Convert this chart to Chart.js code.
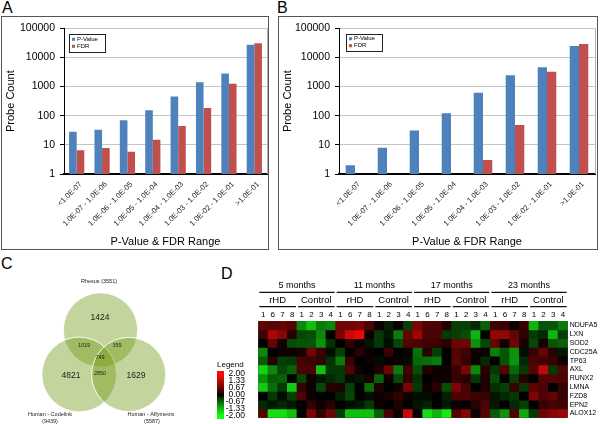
<!DOCTYPE html>
<html><head><meta charset="utf-8">
<script src="https://cdn.jsdelivr.net/npm/chart.js@4.4.1/dist/chart.umd.min.js"></script>
<style>
body{margin:0;width:600px;height:424px;position:relative;background:#fff;font-family:"Liberation Sans",Arial,sans-serif;overflow:hidden}
.frame{position:absolute;border:1px solid #555;box-sizing:border-box}
.lbl{position:absolute;font-size:16px;color:#000;line-height:16px}
canvas{position:absolute}
</style></head><body>
<div class="frame" style="left:1px;top:16px;width:268px;height:234px"></div>
<div class="frame" style="left:278px;top:16px;width:320px;height:234px"></div>
<div class="lbl" style="left:2px;top:0px">A</div>
<div class="lbl" style="left:277px;top:0px">B</div>
<div class="lbl" style="left:1px;top:256px">C</div>
<div class="lbl" style="left:221px;top:266px">D</div>
<canvas id="cA" width="266" height="232" style="left:2px;top:17px"></canvas>
<canvas id="cB" width="318" height="232" style="left:279px;top:17px"></canvas>
<canvas id="cV" width="215" height="169" style="left:0px;top:255px"></canvas>
<canvas id="cL" width="40" height="69" style="left:205px;top:355px"></canvas>
<canvas id="cH" width="350" height="148" style="left:250px;top:276px"></canvas>
<script>
// ---------- DATA ----------
const categories = ['<1.0E-07','1.0E-07 - 1.0E-06','1.0E-06 - 1.0E-05','1.0E-05 - 1.0E-04','1.0E-04 - 1.0E-03','1.0E-03 - 1.0E-02','1.0E-02 - 1.0E-01','>1.0E-01'];
const pValueA = [28, 33, 70, 155, 460, 1400, 2800, 27500];
const fdrA    = [6.5, 7.8, 5.8, 15, 44, 185, 1250, 30500];
const pValueB = [2, 8, 31, 122, 610, 2450, 4600, 24500];
const fdrB    = [null, null, null, null, 3, 48, 3200, 29000];
const yTicks  = [1, 10, 100, 1000, 10000, 100000];

const vennSets = ['Rhesus', 'Human - Codelink', 'Human - Affymetrix'];
const vennRegionKeys   = ['R', 'C', 'A', 'RC', 'RA', 'CA', 'RCA'];
const vennRegionCounts = [1424, 4821, 1629, 1019, 359, 2850, 749];

const genes = ['NDUFA5','LXN','SOD2','CDC25A','TP63','AXL','RUNX2','LMNA','FZD8','EPN2','ALOX12'];
const months = ['5 months','11 months','17 months','23 months'];
const groups = ['rHD','Control'];
const sampleLabels = ['1','6','7','8','1','2','3','4','1','6','7','8','1','2','3','4','1','6','7','8','1','2','3','4','1','6','7','8','1','2','3','4'];
const heatNDUFA5 = [0.6,0.55,0.6,0.5, -0.9,-1.4,-0.8,-0.9, 0.7,0.7,0.8,0.45, 0.05,-0.15,0.05,-0.35, 0.8,0.45,0.45,0.15, -0.35,-0.35,-0.2,-0.6, 0.35,0.3,0.05,0.3, -1.3,-0.5,-0.5,-0.8];
const heatLXN    = [0.35,1.2,0.9,0.2, -0.4,-0.45,-0.9,0.0, 0.8,1.5,1.8,0.05, -0.3,-0.1,-0.8,0.6, 1.1,0.4,0.45,-0.3, -0.35,-0.45,-1.3,0.0, 1.0,1.0,0.6,0.25, -0.3,-0.2,-1.3,-0.35];
const heatSOD2   = [0.0,0.6,0.05,-0.45, -0.5,-0.5,-1.0,-0.25, 0.0,0.25,0.05,-0.1, -0.3,-0.05,-0.4,0.5, 0.45,0.35,0.3,0.2, 0.7,0.7,-1.0,-0.4, 0.6,0.05,0.7,0.1, -0.4,0.1,-0.5,-0.6];
const heatCDC25A = [-0.9,0.0,0.05,0.05, 0.1,0.7,0.3,-0.05, -0.35,0.0,0.2,0.05, 0.0,0.3,0.0,0.05, -0.7,0.2,-0.35,0.0, 0.5,0.35,0.05,0.05, -0.8,-0.5,-1.0,-0.05, 0.3,0.6,0.2,-0.1];
const heatTP63   = [-0.55,0.2,-0.35,-0.3, 0.4,0.35,0.25,-0.25, -0.8,0.3,0.0,0.05, -0.05,0.0,0.05,-0.05, -0.65,-0.7,-0.8,0.0, 0.55,0.3,0.05,-0.2, 0.0,-0.5,-1.0,-0.2, 0.45,0.35,0.3,0.05];
const heatAXL    = [-1.6,-0.9,-0.4,-0.6, 0.45,0.45,-1.4,-0.3, -0.3,0.5,0.05,0.0, 0.15,0.7,-0.8,0.35, -0.45,0.15,0.05,0.05, 0.3,0.8,-0.9,0.2, -0.3,0.5,-0.65,-0.3, 0.5,1.4,-0.3,0.5];
const heatRUNX2  = [-1.0,-0.55,-0.6,0.0, -0.4,0.05,-0.1,-0.2, -0.3,-0.05,-0.1,0.1, -0.6,0.05,-0.4,0.25, -0.25,0.0,0.05,0.05, 0.3,0.2,-0.3,0.15, -0.45,0.0,-0.35,0.2, 0.0,0.5,0.5,0.45];
const heatLMNA   = [-1.5,-0.7,-0.3,-1.5, 0.3,0.05,-0.4,0.2, 0.15,-0.35,0.0,-0.7, 0.15,0.0,0.05,0.8, -0.3,0.05,0.2,-0.45, 0.8,0.4,0.0,0.15, -0.25,-0.35,0.3,-0.3, 0.55,0.45,0.0,0.3];
const heatFZD8   = [0.0,-0.3,-0.05,-0.35, 0.45,0.05,0.0,0.0, -0.15,-0.4,0.0,-0.05, 0.05,0.1,0.25,0.05, -0.05,-0.05,0.0,-0.15, 0.45,0.45,0.35,0.3, -0.1,-0.2,-0.3,0.0, 0.8,0.45,0.6,0.3];
const heatEPN2   = [-0.2,-0.1,-0.2,-0.1, 0.0,0.25,0.05,0.2, 0.0,-0.05,-0.1,-0.3, 0.05,0.0,0.15,0.0, -0.1,-0.15,0.0,-0.1, 0.05,0.0,0.2,0.45, -0.1,0.0,-0.2,-0.35, 0.0,0.3,0.4,0.35];
const heatALOX12 = [0.5,-1.7,-1.7,-1.4, 0.0,0.8,0.25,0.7, -0.35,-1.4,-1.4,-1.4, -0.6,0.4,0.05,1.5, 0.0,-1.7,-1.3,-1.8, 0.5,0.9,0.05,0.5, -0.55,-1.0,0.45,-1.2, -0.3,0.7,0.9,1.1];
const heatRows = [heatNDUFA5,heatLXN,heatSOD2,heatCDC25A,heatTP63,heatAXL,heatRUNX2,heatLMNA,heatFZD8,heatEPN2,heatALOX12];
const legendTicks = [2, 1.33, 0.67, 0, -0.67, -1.33, -2];

// ---------- STYLE ----------
const FONT = '"Liberation Sans", Arial, Helvetica, sans-serif';
Chart.defaults.font.family = FONT;
Chart.defaults.color = '#000';
const BLUE = '#4F81BD', RED = '#C0504D';

function cellColor(v){
  const t = Math.pow(Math.min(Math.abs(v) / 2, 1), 0.8);
  const c = Math.round(255 * t);
  return v >= 0 ? `rgb(${c},${Math.round(c*0.04)},${Math.round(c*0.04)})` : `rgb(${Math.round(c*0.08)},${c},${Math.round(c*0.08)})`;
}

const boxLegend = {
  id: 'boxLegend',
  beforeDatasetsDraw(chart){
    const {ctx, chartArea: a} = chart;
    ctx.save();
    ctx.strokeStyle = '#b0b0b0'; ctx.lineWidth = 1;
    ctx.beginPath(); ctx.moveTo(Math.round(a.right) + 0.5, a.top); ctx.lineTo(Math.round(a.right) + 0.5, a.bottom); ctx.stroke();
    ctx.restore();
  },
  afterDraw(chart, args, o){
    const {ctx, chartArea: a} = chart;
    const x = Math.round(a.left + o.dx), y = Math.round(a.top + o.dy);
    ctx.save();
    ctx.fillStyle = '#fff'; ctx.fillRect(x, y, o.w, o.h);
    ctx.strokeStyle = '#222'; ctx.lineWidth = 1; ctx.strokeRect(x + 0.5, y + 0.5, o.w, o.h);
    ctx.font = '6px ' + FONT; ctx.textBaseline = 'middle'; ctx.textAlign = 'left';
    chart.data.datasets.forEach((ds, i) => {
      const cy = y + o.rows[i];
      ctx.fillStyle = ds.backgroundColor; ctx.fillRect(x + 3, cy - 1.5, 3, 3);
      ctx.fillStyle = '#000'; ctx.fillText(ds.label, x + 8, cy);
    });
    ctx.restore();
  }
};

function barChart(id, pv, fdr, c){
  return new Chart(document.getElementById(id), {
    type: 'bar',
    data: { labels: categories, datasets: [
      { label: 'P-Value', data: pv, backgroundColor: BLUE, borderWidth: 0, barPercentage: 1, categoryPercentage: c.cat },
      { label: 'FDR', data: fdr, backgroundColor: RED, borderWidth: 0, barPercentage: 1, categoryPercentage: c.cat }
    ]},
    options: {
      responsive: false, animation: false, events: [],
      layout: { padding: { left: 0, right: c.padR, top: 9, bottom: 0 } },
      plugins: { legend: { display: false }, tooltip: { enabled: false },
        boxLegend: { dx: c.ldx, dy: 6, w: 36, h: c.lh, rows: c.rows } },
      scales: {
        x: {
          grid: { display: false, drawTicks: false },
          border: { display: true, color: '#000', width: 2 },
          ticks: { color: '#222', font: { size: 7.5 }, minRotation: 45, maxRotation: 45, autoSkip: false, labelOffset: 4, padding: 6 },
          title: { display: true, text: 'P-Value & FDR Range', font: { size: 11 }, color: '#000', padding: 0 },
          afterFit: s => { s.height = 75; }
        },
        y: {
          type: 'logarithmic', min: 1, max: 100000,
          afterBuildTicks: s => { s.ticks = yTicks.map(v => ({ value: v })); },
          ticks: { callback: v => String(v), color: '#000', font: { size: 10.5 }, padding: 5 },
          grid: { color: '#c4c4c4', tickColor: '#000', tickLength: 4, lineWidth: 1 },
          border: { color: '#000', width: 1 },
          title: { display: true, text: 'Probe Count', font: { size: 11 }, color: '#000', padding: { top: 2, bottom: 0 } },
          afterFit: s => { s.width = c.yW; }
        }
      }
    },
    plugins: [boxLegend]
  });
}
barChart('cA', pValueA, fdrA, { cat: 0.6, padR: 1, yW: 62, ldx: 5, lh: 18, rows: [5.3, 12.3] });
barChart('cB', pValueB, fdrB, { cat: 0.58, padR: 2, yW: 60, ldx: 7, lh: 17, rows: [4.7, 11.7] });

// ---------- VENN ----------
const vennLayout = { circles: [ {x:100.5, y:75, r:37.2}, {x:79.2, y:119.5, r:37.4}, {x:128.7, y:119.5, r:37.1} ],
  regionPos: { R:[100,63,8.5], C:[71,121,8.5], A:[136,121,8.5], RC:[84,90,5.5], RA:[117,90,5.5], CA:[100,118,5.5], RCA:[100,102,5.5] },
  setPos: [ [[99,26]], [[50,159],[50,166]], [[151,159],[152,166]] ] };
const setTotals = vennSets.map((s, i) => {
  const key = ['R','C','A'][i];
  return vennRegionKeys.reduce((acc, k, j) => acc + (k.includes(key) ? vennRegionCounts[j] : 0), 0);
});
const vennText = {
  id: 'vennText',
  afterDatasetsDraw(chart){
    const {ctx, scales: {x, y}} = chart;
    ctx.save(); ctx.fillStyle = '#222'; ctx.textAlign = 'center'; ctx.textBaseline = 'middle';
    vennRegionKeys.forEach((k, i) => {
      const p = vennLayout.regionPos[k];
      ctx.font = p[2] + 'px ' + FONT;
      ctx.fillText(String(vennRegionCounts[i]), x.getPixelForValue(p[0]), y.getPixelForValue(p[1]));
    });
    ctx.font = '5.5px ' + FONT;
    vennSets.forEach((s, i) => {
      const pos = vennLayout.setPos[i];
      if (pos.length === 1) {
        ctx.fillText(s + ' (' + setTotals[i] + ')', x.getPixelForValue(pos[0][0]), y.getPixelForValue(pos[0][1]));
      } else {
        ctx.fillText(s, x.getPixelForValue(pos[0][0]), y.getPixelForValue(pos[0][1]));
        ctx.fillText('(' + setTotals[i] + ')', x.getPixelForValue(pos[1][0]), y.getPixelForValue(pos[1][1]));
      }
    });
    ctx.restore();
  }
};
new Chart(document.getElementById('cV'), {
  type: 'bubble',
  data: { datasets: [{ data: vennLayout.circles, backgroundColor: 'rgba(112,155,20,0.42)', borderColor: 'rgba(255,255,255,0.9)', borderWidth: 1, clip: false }] },
  options: {
    responsive: false, animation: false, events: [],
    layout: { padding: 0, autoPadding: false },
    plugins: { legend: { display: false }, tooltip: { enabled: false } },
    scales: { x: { type: 'linear', min: 0, max: 215, display: false }, y: { type: 'linear', min: 0, max: 169, reverse: true, display: false } }
  },
  plugins: [vennText]
});

// ---------- COLOR LEGEND ----------
new Chart(document.getElementById('cL'), {
  type: 'bar',
  data: { labels: ['Legend'], datasets: [{ data: [[-2.3, 2.3]], borderWidth: 0, barPercentage: 1, categoryPercentage: 1,
    backgroundColor: (c) => {
      const ch = c.chart; if (!ch.chartArea) return '#000';
      const ys = ch.scales.y;
      const g = ch.ctx.createLinearGradient(0, ys.getPixelForValue(2), 0, ys.getPixelForValue(-2));
      for (let k = 0; k <= 20; k++) g.addColorStop(k / 20, cellColor(2 - k * 0.2));
      return g;
    } }] },
  options: {
    responsive: false, animation: false, events: [],
    layout: { padding: { left: 12, top: 16, bottom: 4, right: 0 } },
    plugins: { legend: { display: false }, tooltip: { enabled: false } },
    scales: {
      x: { display: false },
      y: { position: 'right', min: -2.3, max: 2.3,
        afterBuildTicks: s => { s.ticks = legendTicks.map(v => ({ value: v })); },
        ticks: { callback: v => v.toFixed(2), font: { size: 8.5 }, color: '#000', padding: 0, crossAlign: 'far', autoSkip: false },
        grid: { display: false, drawTicks: false }, border: { display: false },
        afterFit: s => { s.width = 21; } }
    }
  },
  plugins: [{ id: 'legTitle', afterDraw(chart){ const {ctx, chartArea: a} = chart; ctx.save(); ctx.font = '8px ' + FONT; ctx.fillStyle = '#000'; ctx.textBaseline = 'middle'; ctx.fillText('Legend', a.left, a.top - 6); ctx.restore(); } }]
});

// ---------- HEATMAP ----------
const heatHeader = {
  id: 'heatHeader',
  beforeDatasetsDraw(chart){ const {ctx, chartArea: a} = chart; ctx.save(); ctx.fillStyle = '#080808'; ctx.fillRect(a.left, a.top, a.width, a.height); ctx.restore(); },
  afterDraw(chart){
    const {ctx, chartArea: a, scales: {x}} = chart;
    const colW = x.width / sampleLabels.length;
    const edge = i => x.left + i * colW;
    const per = sampleLabels.length / months.length, sub = per / groups.length;
    ctx.save(); ctx.fillStyle = '#000'; ctx.strokeStyle = '#111'; ctx.textAlign = 'center'; ctx.textBaseline = 'middle'; ctx.lineWidth = 1.3;
    months.forEach((m, g) => {
      const l = edge(g * per), r = edge(g * per + per);
      ctx.font = '9px ' + FONT; ctx.fillText(m, (l + r) / 2, a.top - 35.3);
      ctx.beginPath(); ctx.moveTo(l + 1, a.top - 28.7); ctx.lineTo(r - 1, a.top - 28.7); ctx.stroke();
      groups.forEach((s, k) => {
        const sl = edge(g * per + k * sub), sr = edge(g * per + k * sub + sub);
        ctx.font = '9.5px ' + FONT; ctx.fillText(s, (sl + sr) / 2, a.top - 20.7);
        ctx.beginPath(); ctx.moveTo(sl + 1, a.top - 14.3); ctx.lineTo(sr - 1, a.top - 14.3); ctx.stroke();
      });
    });
    ctx.restore();
  }
};
new Chart(document.getElementById('cH'), {
  type: 'bar',
  data: { labels: sampleLabels, datasets: genes.map((g, i) => ({
    label: g, data: heatRows[i].map(() => 1), backgroundColor: heatRows[i].map(cellColor),
    borderWidth: 0, barPercentage: 1, categoryPercentage: 1, stack: 'cells' })) },
  options: {
    responsive: false, animation: false, events: [],
    layout: { padding: { left: 8.3, top: 0, bottom: 1.7, right: 0 } },
    plugins: { legend: { display: false }, tooltip: { enabled: false } },
    scales: {
      x: { position: 'top', stacked: true, grid: { display: false, drawTicks: false }, border: { display: false },
        ticks: { font: { size: 8 }, color: '#000', padding: 1, maxRotation: 0, minRotation: 0, autoSkip: false },
        afterFit: s => { s.height = 45; } },
      y: { stacked: true, min: 0, max: genes.length, reverse: true, display: false },
      genes: { type: 'category', labels: genes, position: 'right', offset: true, grid: { display: false, drawTicks: false }, border: { display: false },
        ticks: { font: { size: 7 }, color: '#000', padding: 2, autoSkip: false },
        afterFit: s => { s.width = 32.3; } }
    }
  },
  plugins: [heatHeader]
});
</script>
</body></html>
